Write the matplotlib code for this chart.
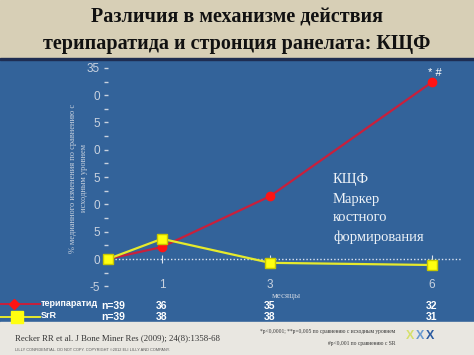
import matplotlib
matplotlib.use("Agg")
import matplotlib.pyplot as plt
from matplotlib.patches import Rectangle
from matplotlib.lines import Line2D
import matplotlib.transforms as mtransforms

# ---- data ----
months = [0, 1, 3, 6]
month_labels = ["1", "3", "6"]
teriparatide = [0.0, 2.2, 11.5, 32.4]
srr = [0.0, 3.7, -0.7, -1.1]
n_teri = ["n=39", "36", "35", "32"]
n_srr = ["n=39", "38", "38", "31"]
yticks = [35, 30, 25, 20, 15, 10, 5, 0, -5]
ytick_labels = ["35", "0", "5", "0", "5", "0", "5", "0", "-5"]

W, H = 474, 355
fig = plt.figure(figsize=(W / 100, H / 100), dpi=100)

def fx(px):
    return px / W

def fy(py):
    return 1 - py / H

BLUE = "#33639a"
# background panels
fig.patches.append(Rectangle((0, fy(58)), 1, 1 - fy(58), transform=fig.transFigure,
                             color="#d7cfb6", zorder=-10))
fig.patches.append(Rectangle((0, fy(322)), 1, fy(59) - fy(322), transform=fig.transFigure,
                             color=BLUE, zorder=-10))
fig.patches.append(Rectangle((0, fy(60)), 1, fy(57.5) - fy(60), transform=fig.transFigure,
                             color="#1e2d52", zorder=-9))
fig.patches.append(Rectangle((0, 0), 1, fy(322), transform=fig.transFigure,
                             color="#e9e7e1", zorder=-10))

# title
serif = ["Liberation Serif", "DejaVu Serif"]
sans = ["Liberation Sans", "DejaVu Sans"]
fig.text(0.5, fy(17), "Различия в механизме действия", ha="center", va="center",
         family=serif, fontweight="bold", fontsize=14.5, color="#111111")
fig.text(0.5, fy(44), "терипаратида и стронция ранелата: КЩФ", ha="center", va="center",
         family=serif, fontweight="bold", fontsize=14.5, color="#111111")

# axes
ax_left, ax_right = 108, 462
y_top_val, y_bot_val = 36.2, -5.8
px_per_unit_y = 5.46
top_px = 259 - y_top_val * px_per_unit_y
bot_px = 259 - y_bot_val * px_per_unit_y
ax = fig.add_axes([fx(ax_left), fy(bot_px), fx(ax_right - ax_left), fy(top_px) - fy(bot_px)])
ax.set_facecolor("none")
ax.set_xlim(0, (ax_right - ax_left) / 54.0)
ax.set_ylim(y_bot_val, y_top_val)
for s in ["top", "right", "left"]:
    ax.spines[s].set_visible(False)
ax.spines["bottom"].set_position(("data", 0))
ax.spines["bottom"].set_visible(False)

ax.set_yticks(yticks)
ax.set_yticklabels(ytick_labels)
ax.set_yticks([32.5, 27.5, 22.5, 17.5, 12.5, 7.5, 2.5, -2.5], minor=True)
ax.tick_params(axis="y", which="both", direction="out", length=3, width=1,
               color="#c9d2df", labelcolor="#c9d2df", labelsize=8.5, pad=3)
for lab in ax.get_yticklabels():
    lab.set_family(sans)

ax.set_xticks(months[1:])
ax.tick_params(axis="x", direction="inout", length=6, width=0.8, color="#dfe6f0",
               labelbottom=False)

# zero dotted line
ax.axhline(0, color="#dbe4f2", lw=1, ls=(0, (1, 1.5)), zorder=1)

# data lines
ax.plot(months, teriparatide, color="#c8203c", lw=1.6, marker="o", ms=6,
        mfc="#ff1414", mec="#ff1414", zorder=3, clip_on=False)
ax.plot(months, srr, color="#e6ea2c", lw=1.6, marker="s", ms=7,
        mfc="#ffff10", mec="#c9c800", zorder=4, clip_on=False)

# x tick labels
for m, lab in zip(months[1:], month_labels):
    ax.text(m, -4.8, lab, ha="center", va="center", color="#c9d2df",
            fontsize=8.5, family=sans)
ax.text(3.3, -6.8, "месяцы", ha="center", va="center", color="#c9d2df",
        fontsize=6.5, family=serif, clip_on=False)

# y label
fig.text(fx(73), fy(178), "% медианного изменения по сравнению с",
         rotation=90, ha="center", va="center", color="#c9d2df", fontsize=6, family=serif)
fig.text(fx(84), fy(178), "исходным уровнем",
         rotation=90, ha="center", va="center", color="#c9d2df", fontsize=6, family=serif)

# annotations
ax.text(6.05, 34.0, "* #", ha="center", va="center", color="white", fontsize=8, family=sans)
for i, line in enumerate(["КЩФ", "Маркер", "костного", "формирования"]):
    fig.text(fx(333), fy(180 + i * 19), line, ha="left", va="center",
             color="#eef3f8", fontsize=10.5, family=serif)

# n rows
trans = mtransforms.blended_transform_factory(ax.transData, fig.transFigure)
for row, (vals, ypx) in enumerate([(n_teri, 306), (n_srr, 317)]):
    for m, v in zip(months, vals):
        xx = 0.1 if m == 0 else m
        fig.text(xx, fy(ypx), v, transform=trans, ha="center", va="center",
                 color="white", fontsize=7.5, fontweight="bold", family=sans)

# legend (manual)
fig.add_artist(Line2D([0, fx(40)], [fy(304), fy(304)], color="#c8203c", lw=1.4))
fig.add_artist(Line2D([fx(14)], [fy(304)], marker="D", ms=5, color="#ff1414"))
fig.add_artist(Line2D([0, fx(40)], [fy(317), fy(317)], color="#e6ea2c", lw=1.4))
fig.add_artist(Line2D([fx(17)], [fy(317)], marker="s", ms=8, color="#ffff10"))
fig.text(fx(41), fy(304), "терипаратид", ha="left", va="center", color="white",
         fontsize=6.5, fontweight="bold", family=sans)
fig.text(fx(41), fy(316), "SrR", ha="left", va="center", color="white",
         fontsize=6.5, fontweight="bold", family=sans)

# footer
fig.text(fx(15), fy(338), "Recker RR et al. J Bone Miner Res (2009); 24(8):1358-68",
         ha="left", va="center", color="#333333", fontsize=6.3, family=serif)
fig.text(fx(15), fy(350), "LILLY CONFIDENTIAL. DO NOT COPY. COPYRIGHT ©2012 ELI LILLY AND COMPANY.",
         ha="left", va="center", color="#555555", fontsize=2.8, family=sans)
fig.text(fx(395), fy(331), "*p<0,0001; **p=0,005 по сравнению с исходным уровнем",
         ha="right", va="center", color="#333333", fontsize=4, family=serif)
fig.text(fx(395), fy(343), "#p<0,001 по сравнению с SR",
         ha="right", va="center", color="#333333", fontsize=4, family=serif)
for i, c in enumerate(["#d6e06a", "#6a9ad0", "#2a5aa0"]):
    fig.text(fx(410 + i * 10), fy(336), "X", ha="center", va="center", color=c,
             fontsize=9, fontweight="bold", family=sans)

fig.savefig("out.png", dpi=100)
